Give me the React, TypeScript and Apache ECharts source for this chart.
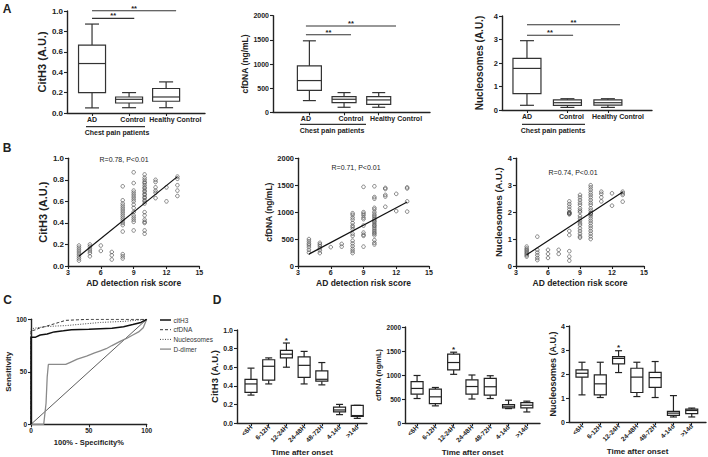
import React, { useEffect, useRef } from 'react';
import * as echarts from 'echarts';

const FONT = '"Liberation Sans", Arial, sans-serif';
const INK = '#222';

// ---------- Panel A : box plots (min, q1, median, q3, max) ----------
const aCategories = ['AD', 'Control', 'Healthy Control'];
const aCitH3 = [
  [0.05, 0.2, 0.485, 0.666, 0.872],
  [0.052, 0.098, 0.134, 0.157, 0.2],
  [0.052, 0.115, 0.157, 0.24, 0.305],
];
const aCfDNA = [
  [242, 455, 657, 961, 1480],
  [104, 200, 270, 325, 408],
  [104, 166, 256, 325, 408],
];
const aNucleosomes = [
  [0.2, 0.7, 1.77, 2.2, 2.95],
  [0.11, 0.2, 0.31, 0.43, 0.48],
  [0.11, 0.21, 0.31, 0.43, 0.48],
];
// significance bars: [from category, to category, value]
const aCitH3Sig = [[0, 2.27, 1.003], [0, 1.14, 0.928]];
const aCfDNASig = [[-0.1, 2.5, 1787], [-0.1, 1.2, 1607]];
const aNucleosomesSig = [[0, 2.3, 3.63], [0, 1.14, 3.18]];

// ---------- Panel B : scatter vs AD detection risk score ----------
const b1CitH3: [number, number[]][] = [
  [4, [0.19, 0.17, 0.15, 0.13, 0.11, 0.09, 0.07, 0.05]],
  [5, [0.2, 0.18, 0.16, 0.14, 0.12, 0.09]],
  [6, [0.19, 0.14]],
  [7, [0.13, 0.1, 0.06]],
  [8, [0.74, 0.61, 0.58, 0.56, 0.54, 0.52, 0.5, 0.48, 0.46, 0.44, 0.42, 0.4, 0.38, 0.32, 0.11, 0.09, 0.07]],
  [9, [0.87, 0.77, 0.7, 0.68, 0.66, 0.64, 0.62, 0.6, 0.57, 0.54, 0.5, 0.47, 0.45, 0.43, 0.41, 0.33]],
  [10, [0.85, 0.82, 0.8, 0.78, 0.77, 0.75, 0.73, 0.72, 0.7, 0.69, 0.67, 0.66, 0.64, 0.63, 0.61, 0.6, 0.58, 0.5, 0.47, 0.43, 0.41, 0.4, 0.33, 0.3]],
  [11, [0.8, 0.78, 0.73, 0.7, 0.68, 0.63]],
  [12, [0.73, 0.6]],
  [13, [0.83, 0.81, 0.75, 0.7, 0.65]],
];
const b2CfDNA: [number, number[]][] = [
  [4, [500, 460, 420, 390, 350, 300, 250]],
  [5, [430, 400, 370, 330, 290, 240]],
  [6, [350]],
  [7, [410, 360]],
  [8, [980, 950, 900, 860, 800, 750, 720, 680, 600, 560, 470, 420, 370, 320, 280, 240]],
  [9, [1470, 1000, 970, 940, 900, 870, 750, 620, 580, 560, 360]],
  [10, [1480, 1280, 1250, 1080, 1050, 1000, 960, 930, 900, 870, 840, 820, 790, 760, 740, 710, 680, 650, 620, 600, 570, 480, 430, 400]],
  [11, [1450, 1430, 1320, 1290, 1100]],
  [12, [1340, 1020]],
  [13, [1460, 1440, 1200, 1010]],
];
const b3Nucleosomes: [number, number[]][] = [
  [4, [0.72, 0.65, 0.6, 0.55, 0.5, 0.45, 0.4, 0.35]],
  [5, [1.09, 0.6, 0.5, 0.4, 0.3, 0.22]],
  [6, [0.6, 0.45, 0.3]],
  [7, [0.6, 0.45]],
  [8, [2.4, 2.3, 2.2, 2.1, 2.0, 1.98, 1.96, 1.94, 1.92, 1.3, 1.15, 0.55, 0.35, 0.2]],
  [9, [2.64, 2.55, 2.45, 2.35, 2.27, 2.14, 2.06, 2.0, 1.86, 1.77, 1.68, 1.59, 1.52, 1.4, 1.3, 1.2, 1.1, 1.05]],
  [10, [3.0, 2.92, 2.83, 2.73, 2.64, 2.55, 2.45, 2.35, 2.27, 2.14, 2.06, 1.96, 1.95, 1.94, 1.86, 1.77, 1.68, 1.59, 1.49, 1.4, 1.3, 1.2, 1.1, 1.0]],
  [11, [2.76, 2.68, 2.55, 2.4]],
  [12, [2.7, 2.24]],
  [13, [2.76, 2.7, 2.64, 2.39]],
];
const b1Fit = [[4, 0.09], [13, 0.83]];
const b2Fit = [[4, 220], [13, 1190]];
const b3Fit = [[4, 0.42], [13, 2.75]];
const bStats = ['R=0.78, P<0.01', 'R=0.71, P<0.01', 'R=0.74, P<0.01'];

// ---------- Panel C : ROC curves ----------
const rocNames = ['citH3', 'cfDNA', 'Nucleosomes', 'D-dimer'];
const rocCitH3 = [[0, 0], [0, 83], [4, 83], [8, 85], [14, 86], [20, 88], [28, 89], [35, 90], [50, 90.5], [60, 91], [70, 91.5], [80, 93], [88, 95], [95, 97], [100, 100]];
const rocCfDNA = [[0, 0], [0, 89], [4, 90], [8, 92], [12, 93], [18, 95], [24, 97], [30, 99], [40, 99.5], [50, 100], [100, 100]];
const rocNucleosomes = [[0, 0], [0, 91], [6, 92], [12, 93], [20, 93.5], [30, 94], [40, 95], [50, 96], [60, 97], [70, 97.5], [80, 98], [90, 99], [100, 100]];
const rocDDimer = [[0, 0], [11, 0], [13, 20], [14, 45], [15, 57], [30, 57], [34, 59], [40, 62], [48, 65], [55, 68], [60, 70], [65, 72], [70, 75], [77, 79], [83, 82], [88, 85], [93, 88], [97, 92], [100, 100]];
const rocReference = [[0, 0], [100, 100]];

// ---------- Panel D : box plots by time after onset ----------
const dCategories = ['<6H', '6-12H', '12-24H', '24-48H', '48-72H', '4-14d', '>14d'];
const dCitH3 = [
  [0.3, 0.33, 0.42, 0.47, 0.59],
  [0.42, 0.46, 0.61, 0.68, 0.7],
  [0.6, 0.7, 0.74, 0.78, 0.86],
  [0.42, 0.49, 0.62, 0.71, 0.77],
  [0.41, 0.45, 0.47, 0.56, 0.65],
  [0.09, 0.12, 0.14, 0.17, 0.2],
  [0.05, 0.07, 0.08, 0.19, 0.19],
];
const dCfDNA = [
  [510, 600, 720, 860, 990],
  [357, 405, 545, 705, 740],
  [1014, 1105, 1260, 1433, 1475],
  [500, 600, 760, 900, 1000],
  [510, 580, 755, 930, 985],
  [300, 315, 350, 385, 475],
  [230, 315, 370, 425, 455],
];
const dNucleosomes = [
  [1.13, 1.87, 2.03, 2.17, 2.49],
  [1.02, 1.13, 1.59, 1.96, 2.49],
  [2.06, 2.42, 2.65, 2.72, 2.97],
  [1.06, 1.23, 1.87, 2.24, 2.49],
  [1.02, 1.44, 1.85, 2.07, 2.52],
  [0.21, 0.28, 0.37, 0.44, 1.1],
  [0.21, 0.35, 0.48, 0.54, 0.58],
];
const dMarks = ['', '', '*', '', '', '', ''];

// ---------------------------------------------------------------
const ROC_STYLES = [
  { color: '#111', width: 1.5, dash: null as number[] | null },
  { color: '#333', width: 1, dash: [3, 2] },
  { color: '#444', width: 1, dash: [1, 1.5] },
  { color: '#8a8a8a', width: 1.3, dash: null as number[] | null },
];

const flat = (groups: [number, number[]][]) => groups.flatMap(([x, ys]) => ys.map((y) => [x, y]));

function boxSeries(idx: number, stats: number[][], boxW: number, capW: number, color: string, marks?: string[]) {
  return {
    type: 'custom',
    xAxisIndex: idx,
    yAxisIndex: idx,
    clip: false,
    silent: true,
    encode: { x: 0, y: [1, 2, 3, 4, 5] },
    data: stats.map((s, i) => [i, ...s]),
    renderItem: (params: any, api: any) => {
      const x = api.value(0);
      const p = [1, 2, 3, 4, 5].map((d) => api.coord([x, api.value(d)]));
      const cx = p[0][0];
      const [yMin, yQ1, yMed, yQ3, yMax] = p.map((q: number[]) => q[1]);
      const st = { stroke: color, lineWidth: 1.2 };
      const children: any[] = [
        { type: 'line', shape: { x1: cx, y1: yMin, x2: cx, y2: yQ1 }, style: st },
        { type: 'line', shape: { x1: cx, y1: yQ3, x2: cx, y2: yMax }, style: st },
        { type: 'line', shape: { x1: cx - capW / 2, y1: yMin, x2: cx + capW / 2, y2: yMin }, style: st },
        { type: 'line', shape: { x1: cx - capW / 2, y1: yMax, x2: cx + capW / 2, y2: yMax }, style: st },
        { type: 'rect', shape: { x: cx - boxW / 2, y: yQ3, width: boxW, height: yQ1 - yQ3 }, style: { stroke: color, lineWidth: 1.2, fill: '#fff' } },
        { type: 'line', shape: { x1: cx - boxW / 2, y1: yMed, x2: cx + boxW / 2, y2: yMed }, style: st },
      ];
      const m = marks && marks[params.dataIndex];
      if (m) {
        children.push({ type: 'text', x: cx, y: yMax - 3, style: { text: m, align: 'center', verticalAlign: 'middle', fontSize: 8, fontWeight: 'bold', fill: INK, fontFamily: FONT } });
      }
      return { type: 'group', children };
    },
  };
}

function sigSeries(idx: number, bars: number[][]) {
  return {
    type: 'custom',
    xAxisIndex: idx,
    yAxisIndex: idx,
    clip: false,
    silent: true,
    encode: { x: [0, 1], y: 2 },
    data: bars,
    renderItem: (_p: any, api: any) => {
      const a = api.coord([api.value(0), api.value(2)]);
      const b = api.coord([api.value(1), api.value(2)]);
      return {
        type: 'group',
        children: [
          { type: 'line', shape: { x1: a[0], y1: a[1], x2: b[0], y2: b[1] }, style: { stroke: '#333', lineWidth: 1.1 } },
          { type: 'text', x: (a[0] + b[0]) / 2, y: a[1] - 2.5, style: { text: '**', align: 'center', verticalAlign: 'middle', fontSize: 7.5, fontWeight: 'bold', fill: INK, fontFamily: FONT } },
        ],
      };
    },
  };
}

const axisLine = { show: true, onZero: false, lineStyle: { color: INK, width: 1.4 } };
const axisTick = (len = 3) => ({ show: true, length: len, lineStyle: { color: INK, width: 1.1 } });
const tickFont = (size: number) => ({ fontSize: size, fontWeight: 'bold' as const, color: INK, fontFamily: FONT });

function yAx(grid: number, min: number, max: number, interval: number, name: string, nameSize: number, nameGap: number, decimals: number, labelSize = 7.5) {
  return {
    type: 'value', gridIndex: grid, min, max, interval,
    name, nameLocation: 'middle', nameGap, nameRotate: 90,
    nameTextStyle: { fontSize: nameSize, fontWeight: 'bold', color: INK, fontFamily: FONT },
    axisLine, axisTick: axisTick(3),
    axisLabel: { ...tickFont(labelSize), margin: 4, formatter: (v: number) => v.toFixed(decimals) },
    splitLine: { show: false },
  };
}

function catAx(grid: number, min: number, max: number, cats: string[], labelAt: number[], rotate: number, name?: string, nameGap?: number) {
  const nearest = (v: number) => {
    let best = 0;
    labelAt.forEach((p, i) => { if (Math.abs(p - v) < Math.abs(labelAt[best] - v)) best = i; });
    return cats[best];
  };
  return {
    type: 'value', gridIndex: grid, min, max,
    name: name || '', nameLocation: 'middle', nameGap: nameGap || 0,
    nameTextStyle: { fontSize: 8, fontWeight: 'bold', color: INK, fontFamily: FONT },
    axisLine, axisTick: { ...axisTick(3), customValues: cats.map((_, i) => i) },
    axisLabel: { ...tickFont(rotate ? 6.5 : 7), margin: 3, rotate, hideOverlap: false, customValues: labelAt, formatter: (v: number) => nearest(v) },
    splitLine: { show: false },
  };
}

function numXAx(grid: number, min: number, max: number, interval: number, name: string, nameGap: number, nameSize: number, labelSize: number) {
  return {
    type: 'value', gridIndex: grid, min, max, interval,
    name, nameLocation: 'middle', nameGap,
    nameTextStyle: { fontSize: nameSize, fontWeight: 'bold', color: INK, fontFamily: FONT },
    axisLine, axisTick: axisTick(3),
    axisLabel: { ...tickFont(labelSize), margin: 3 },
    splitLine: { show: false },
  };
}

const g = (left: number, top: number, width: number, height: number) => ({ left, top, width, height, containLabel: false, outerBoundsMode: 'none' });

function buildOption() {
  const aLabelAt = [0, 1.1, 2.25];
  const a2LabelAt = [-0.1, 1.2, 2.5];
  const scatterStyle = { color: 'rgba(255,255,255,0)', borderColor: '#444', borderWidth: 0.8 };
  const fitLine = (idx: number, data: number[][]) => ({
    type: 'line', xAxisIndex: idx, yAxisIndex: idx, data, symbol: 'none', silent: true,
    lineStyle: { color: '#111', width: 1.2 }, z: 3,
  });
  const scat = (idx: number, groups: [number, number[]][]) => ({
    type: 'scatter', xAxisIndex: idx, yAxisIndex: idx, data: flat(groups), symbol: 'circle', symbolSize: 3.6, silent: true,
    itemStyle: scatterStyle,
  });
  const roc = (i: number, data: number[][]) => ({
    name: rocNames[i], type: 'line', xAxisIndex: 6, yAxisIndex: 6, data, symbol: 'none', silent: true,
    lineStyle: { color: ROC_STYLES[i].color, width: ROC_STYLES[i].width, type: ROC_STYLES[i].dash || 'solid' },
  });
  const txt = (text: string, x: number, y: number, size: number, bold: boolean, align = 'center', fill = INK) => ({
    type: 'text', x, y,
    style: { text, fontSize: size, fontWeight: bold ? 'bold' : 'normal', fill, fontFamily: FONT, align, verticalAlign: 'middle' },
  });
  const hline = (x1: number, x2: number, y: number, stroke = '#333', lineWidth = 1.2, lineDash: number[] | null = null) => ({
    type: 'line', shape: { x1, y1: y, x2, y2: y }, style: { stroke, lineWidth, lineDash },
  });

  const legendItems: any[] = [];
  rocNames.forEach((n, i) => {
    const y = 320 + i * 9.7;
    const s = ROC_STYLES[i];
    legendItems.push(hline(160, 171, y, s.color, s.width, s.dash));
    legendItems.push(txt(n, 173.5, y, 6.5, false, 'left', '#333'));
  });

  return {
    animation: false,
    backgroundColor: '#fff',
    textStyle: { fontFamily: FONT },
    grid: [
      g(67, 11, 138, 102),
      g(273, 15.7, 157, 96.6),
      g(502, 16, 150, 94),
      g(68, 158.3, 131.3, 107.7),
      g(298, 158.3, 131, 107.7),
      g(516, 158.3, 128, 107.7),
      g(31, 319.3, 115.7, 105),
      g(237, 330, 130, 93),
      g(405, 327, 135, 96),
      g(569, 326, 137, 96),
    ],
    xAxis: [
      catAx(0, -0.676, 3.05, aCategories, aLabelAt, 0),
      catAx(1, -1.05, 3.48, aCategories, a2LabelAt, 0),
      catAx(2, -0.617, 3.09, aCategories, aLabelAt, 0),
      numXAx(3, 3, 15, 3, 'AD detection risk score', 12.5, 8.5, 7),
      numXAx(4, 3, 15, 3, 'AD detection risk score', 12.5, 8.5, 7),
      numXAx(5, 3, 15, 3, 'AD detection risk score', 12.5, 8.5, 7),
      numXAx(6, 0, 100, 50, '100% - Specificity%', 14.5, 7.5, 6.5),
      catAx(7, -0.79, 6.55, dCategories, dCategories.map((_, i) => i), 45, 'Time after onset', 25),
      catAx(8, -0.66, 6.72, dCategories, dCategories.map((_, i) => i), 45, 'Time after onset', 25),
      catAx(9, -0.71, 6.78, dCategories, dCategories.map((_, i) => i), 45, 'Time after onset', 25),
    ],
    yAxis: [
      yAx(0, 0, 1, 0.2, 'CitH3 (A.U.)', 11, 14.5, 1, 8),
      yAx(1, 0, 2000, 500, 'cfDNA (ng/mL)', 8.5, 18, 0, 7),
      yAx(2, 0, 4, 1, 'Nucleosomes (A.U.)', 10, 18, 0, 7.5),
      yAx(3, 0, 1, 0.2, 'CitH3 (A.U.)', 11, 15.5, 1, 8),
      yAx(4, 0, 2000, 500, 'cfDNA (ng/mL)', 8.5, 25, 0, 7.5),
      yAx(5, 0, 4, 1, 'Nucleosomes (A.U.)', 9.5, 8, 0, 7.5),
      yAx(6, 0, 100, 50, 'Sensitivity', 8, 17.5, 0, 6.5),
      yAx(7, 0, 1, 0.2, 'CitH3 (A.U.)', 9.5, 16, 1, 7),
      yAx(8, 0, 2000, 500, 'cfDNA (ng/mL)', 7.5, 19, 0, 6.5),
      yAx(9, 0, 4, 1, 'Nucleosomes (A.U.)', 9, 9.5, 0, 7),
    ],
    series: [
      boxSeries(0, aCitH3, 27, 14, '#333'),
      boxSeries(1, aCfDNA, 24, 13, '#333'),
      boxSeries(2, aNucleosomes, 28, 14, '#333'),
      sigSeries(0, aCitH3Sig),
      sigSeries(1, aCfDNASig),
      sigSeries(2, aNucleosomesSig),
      scat(3, b1CitH3),
      scat(4, b2CfDNA),
      scat(5, b3Nucleosomes),
      fitLine(3, b1Fit),
      fitLine(4, b2Fit),
      fitLine(5, b3Fit),
      { type: 'line', xAxisIndex: 6, yAxisIndex: 6, data: rocReference, symbol: 'none', silent: true, lineStyle: { color: '#333', width: 0.8 } },
      roc(3, rocDDimer),
      roc(2, rocNucleosomes),
      roc(1, rocCfDNA),
      roc(0, rocCitH3),
      boxSeries(7, dCitH3, 12, 7, '#222', dMarks),
      boxSeries(8, dCfDNA, 12, 7, '#222', dMarks),
      boxSeries(9, dNucleosomes, 12, 7, '#222', dMarks),
    ],
    graphic: [
      txt('A', 7, 9, 12, true),
      txt('B', 7, 148, 12, true),
      txt('C', 7.5, 300, 12, true),
      txt('D', 217, 300, 12, true),
      hline(86, 145, 126.7),
      txt('Chest pain patients', 117, 132.5, 7, true),
      hline(300, 366, 124.3),
      txt('Chest pain patients', 332, 130.7, 7, true),
      hline(522, 585, 124.3),
      txt('Chest pain patients', 553, 130.7, 7, true),
      txt(bStats[0], 124, 159.5, 7, false),
      txt(bStats[1], 356, 167.7, 7, false),
      txt(bStats[2], 573, 172.3, 7, false),
      ...legendItems,
    ],
  };
}

export default function App() {
  const ref = useRef<HTMLDivElement>(null);
  useEffect(() => {
    if (!ref.current) return;
    const chart = echarts.init(ref.current, null, { renderer: 'svg' });
    chart.setOption(buildOption() as any);
    return () => chart.dispose();
  }, []);
  return <div ref={ref} style={{ position: 'absolute', left: 0, top: 0, width: 708, height: 457, background: '#fff' }} />;
}
